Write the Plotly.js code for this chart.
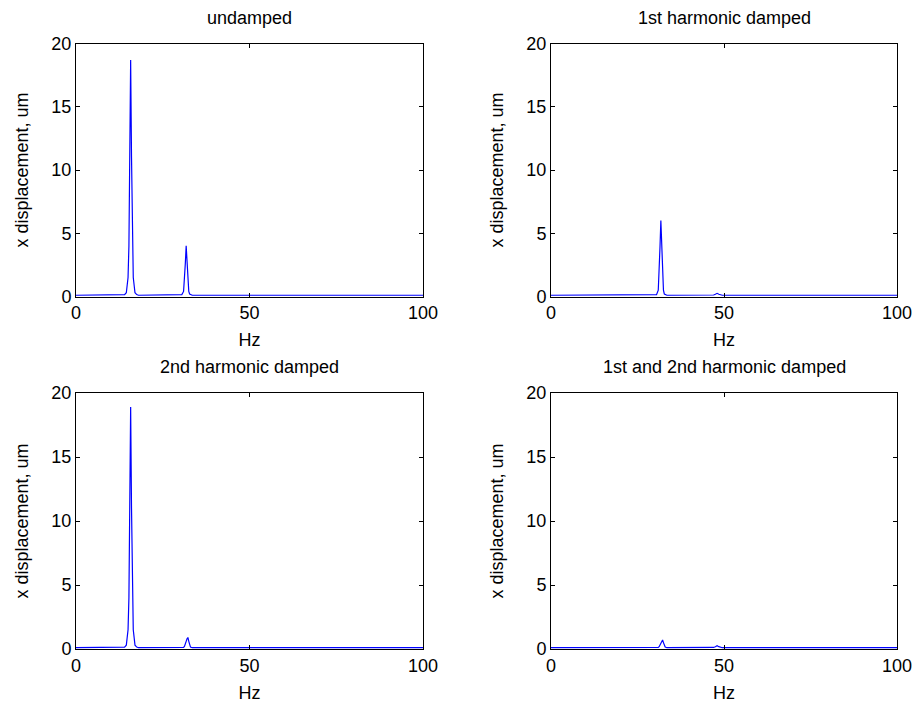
<!DOCTYPE html>
<html>
<head>
<meta charset="utf-8">
<script src="https://cdn.plot.ly/plotly-3.0.1.min.js"></script>
<style>html,body{margin:0;padding:0;background:#fff}#chart{width:923px;height:713px}</style>
</head>
<body>
<div id="chart"></div>
<script>
// Frequency samples (Hz)
var freq = [0, 13.5, 14, 14.5, 15, 15.25, 15.5, 15.75, 16, 16.25, 16.5, 17, 17.5, 18,
            30, 30.5, 31, 31.25, 31.5, 31.75, 32, 32.25, 32.5, 32.75, 33, 33.5, 34,
            46.5, 47, 47.5, 48, 48.5, 49, 49.5, 100];
// x displacement, um
var undamped = [0.1, 0.1, 0.15, 0.3, 1.5, 4, 11, 18.7, 11, 4, 1.5, 0.3, 0.15, 0.1,
                0.1, 0.15, 0.4, 1.2, 2.6, 4.0, 2.6, 1.2, 0.4, 0.2, 0.15, 0.1, 0.1,
                0.1, 0.1, 0.1, 0.1, 0.1, 0.1, 0.1, 0.1];
var firstDamped = [0.1, 0.1, 0.1, 0.1, 0.1, 0.1, 0.1, 0.1, 0.1, 0.1, 0.1, 0.1, 0.1, 0.1,
                   0.1, 0.15, 0.5, 1.8, 3.9, 6.0, 3.9, 1.8, 0.5, 0.2, 0.15, 0.1, 0.1,
                   0.1, 0.12, 0.18, 0.25, 0.18, 0.12, 0.1, 0.1];
var secondDamped = [0.1, 0.1, 0.15, 0.3, 1.5, 4, 11, 18.9, 11, 4, 1.5, 0.3, 0.15, 0.1,
                    0.1, 0.1, 0.12, 0.2, 0.35, 0.6, 0.8, 0.9, 0.6, 0.3, 0.15, 0.1, 0.1,
                    0.1, 0.1, 0.1, 0.1, 0.1, 0.1, 0.1, 0.1];
var bothDamped = [0.1, 0.1, 0.1, 0.1, 0.1, 0.1, 0.1, 0.1, 0.1, 0.1, 0.1, 0.1, 0.1, 0.1,
                  0.1, 0.1, 0.12, 0.18, 0.3, 0.5, 0.65, 0.7, 0.5, 0.25, 0.15, 0.1, 0.1,
                  0.1, 0.12, 0.18, 0.25, 0.18, 0.12, 0.1, 0.1];
var titles = ['undamped', '1st harmonic damped', '2nd harmonic damped', '1st and 2nd harmonic damped'];
var xTicks = [0, 50, 100];
var yTicks = [0, 5, 10, 15, 20];

var series = [undamped, firstDamped, secondDamped, bothDamped];
var W = 923, H = 713;
var boxes = [
  {l: 76, r: 423, t: 43.5, b: 296.5, ty: 18},
  {l: 551, r: 897, t: 43.5, b: 296.5, ty: 18},
  {l: 76, r: 423, t: 393, b: 649, ty: 367},
  {l: 551, r: 897, t: 393, b: 649, ty: 367}
];
var font = {family: 'Liberation Sans, Arial, sans-serif', size: 18, color: '#000'};
var traces = [], layout = {
  width: W, height: H, margin: {l: 0, r: 0, t: 0, b: 0},
  paper_bgcolor: '#fff', plot_bgcolor: '#fff', showlegend: false, font: font,
  annotations: []
};
series.forEach(function (s, i) {
  var n = i === 0 ? '' : String(i + 1);
  traces.push({x: freq, y: s, type: 'scatter', mode: 'lines',
    line: {color: '#0000ff', width: 1.2}, xaxis: 'x' + n, yaxis: 'y' + n, hoverinfo: 'skip'});
  var bx = boxes[i];
  var common = {showgrid: false, zeroline: false, showline: true, linecolor: '#000', linewidth: 1,
    mirror: 'ticks', ticks: 'inside', ticklen: 4, tickcolor: '#000', tickfont: font, automargin: false, fixedrange: true};
  layout['xaxis' + n] = Object.assign({}, common, {
    domain: [bx.l / W, bx.r / W], range: [0, 100], tickvals: xTicks, ticktext: xTicks.map(String),
    anchor: 'y' + n, title: {text: 'Hz', font: font, standoff: 11}
  });
  layout['yaxis' + n] = Object.assign({}, common, {
    domain: [1 - bx.b / H, 1 - bx.t / H], range: [0, 20], tickvals: yTicks, ticktext: yTicks.map(String),
    anchor: 'x' + n, title: {text: 'x displacement, um', font: font, standoff: 18}
  });
  layout.annotations.push({text: titles[i], xref: 'paper', yref: 'paper',
    x: (bx.l + bx.r) / 2 / W, y: 1 - bx.ty / H, xanchor: 'center', yanchor: 'middle',
    showarrow: false, font: font});
});
Plotly.newPlot('chart', traces, layout, {staticPlot: true, displayModeBar: false});
</script>
</body>
</html>
